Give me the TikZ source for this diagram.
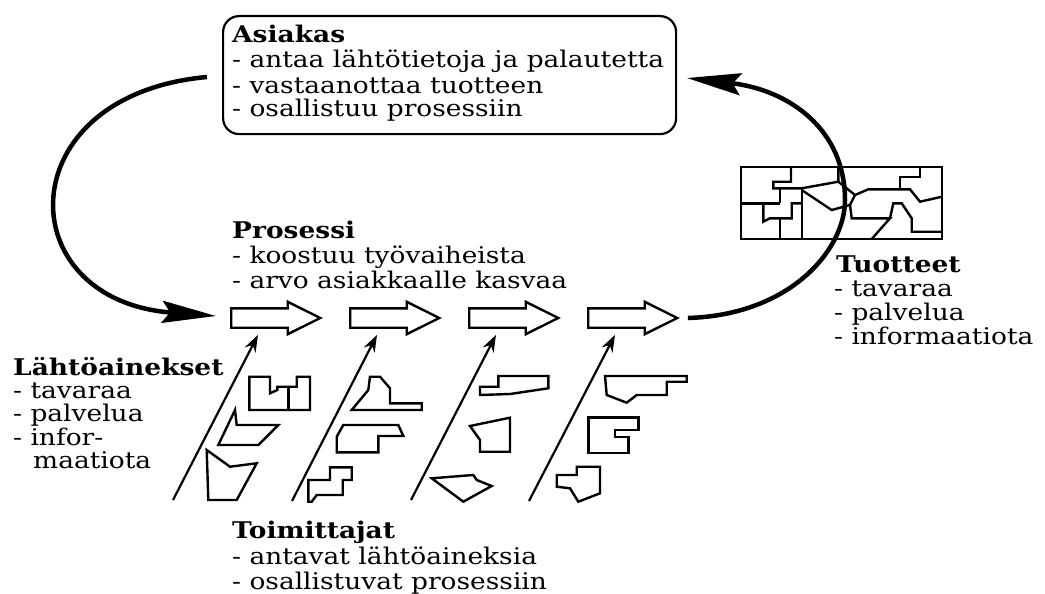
\documentclass[tikz,border=0pt]{standalone}
\usepackage{fontspec}
\setmainfont{DejaVu Serif}[FakeStretch=1.15]
\usetikzlibrary{arrows.meta,shapes.arrows,calc}
\begin{document}
\begin{tikzpicture}[x=1pt,y=-1pt,
  txt/.style={anchor=base west, inner sep=0pt, font=\fontsize{23}{24}\selectfont},
  hd/.style={txt, font=\fontsize{23}{24}\selectfont\bfseries},
  blk/.style={single arrow, draw, line width=2.4pt, minimum height=89pt,
    single arrow head extend=6.5pt, single arrow tip angle=53, inner xsep=0pt, inner ysep=8.5pt, anchor=center},
  feed/.style={line width=2.2pt, -{Stealth[length=17pt,width=12pt]}},
  cycarrow/.style={line width=4.5pt, -{Stealth[length=54pt,width=22pt,inset=8pt]}},
  pieceline/.style={line width=2.4pt, line join=miter},
  prodline/.style={line width=2.4pt},
]
\useasboundingbox (0,0) rectangle (1045,594);

% customer box
\node[draw, line width=2.2pt, rounded corners=16pt, minimum width=453pt, minimum height=118pt,
  inner sep=0pt, anchor=north west] (asiakas) at (222,15) {};
\node[hd] (as0) at (232,43) {Asiakas};
\node[txt] (as1) at (232,68) {- antaa lähtötietoja ja palautetta};
\node[txt] (as2) at (232,93) {- vastaanottaa tuotteen};
\node[txt] (as3) at (232,117) {- osallistuu prosessiin};

% process
\node[hd] (pr0) at (232,238) {Prosessi};
\node[txt] (pr1) at (232,263) {- koostuu työvaiheista};
\node[txt] (pr2) at (232,288) {- arvo asiakkaalle kasvaa};

\node[blk] (ba1) at (266,318) {};
\node[blk] (ba2) at (385,318) {};
\node[blk] (ba3) at (504,318) {};
\node[blk] (ba4) at (623,318) {};

% products
\node[hd] (tu0) at (836,272) {Tuotteet};
\node[txt] (tu1) at (834,296) {- tavaraa};
\node[txt] (tu2) at (834,320) {- palvelua};
\node[txt] (tu3) at (834,344) {- informaatiota};

% inputs
\node[hd] (la0) at (13,375) {Lähtöainekset};
\node[txt] (la1) at (13,398) {- tavaraa};
\node[txt] (la2) at (13,421) {- palvelua};
\node[txt] (la3) at (13,445) {- infor-};
\node[txt] (la4) at (33,468) {maatiota};

% suppliers
\node[hd] (to0) at (232,538) {Toimittajat};
\node[txt] (to1) at (232,564) {- antavat lähtöaineksia};
\node[txt] (to2) at (232,589) {- osallistuvat prosessiin};

% product box
\draw[prodline] (741,167) rectangle (942,239);
\draw[prodline] (791,167) -- (791,181.7) -- (773.3,181.7) -- (773.3,188.3) -- (801.7,188.3) -- (838.3,181.7) -- (838.3,167);
\draw[prodline] (838.3,181.7) -- (855,195) -- (868.3,189.3) -- (910,189.3) -- (920,201.7) -- (942,196.7);
\draw[prodline] (900,189.3) -- (900,176.7) -- (920,176.7) -- (920,167);
\draw[prodline] (801.7,188.3) -- (801.7,239);
\draw[prodline] (801.7,190) -- (831.7,210) -- (850,205) -- (855,195);
\draw[prodline] (850,205) -- (851.7,218.3) -- (890,218.3) -- (871.7,239);
\draw[prodline] (890,218.3) -- (893.3,203.3) -- (901.7,203.3) -- (911.7,218.3) -- (911.7,231.7) -- (942,231.7);
\draw[prodline] (741,203.3) -- (780,203.3);
\draw[prodline] (780,188.3) -- (780,203.3);
\draw[prodline] (763.3,203.3) -- (763.3,221.7) -- (770,218.3) -- (791.7,218.3) -- (791.7,203.3) -- (801.7,203.3);
\draw[prodline] (780,218.3) -- (780,239);

% cycle arrows
\coordinate (lstart) at (207,77);
\coordinate (rend) at (687,78);
\draw[cycarrow] (lstart) .. controls (8,95) and (8,300) .. ([xshift=-14pt,yshift=2pt]ba1.west);
\draw[cycarrow] ([xshift=8pt]ba4.tip) .. controls (790,315) and (845,250) .. (845,200)
  .. controls (845,130) and (790,90) .. (rend);

% supplier arrows
\coordinate (f1) at (173,500);
\coordinate (f2) at (292,501);
\coordinate (f3) at (411,500);
\coordinate (f4) at (529,501);
\draw[feed] (f1) -- ([xshift=-8pt,yshift=-6pt]ba1.south);
\draw[feed] (f2) -- ([xshift=-8pt,yshift=-6pt]ba2.south);
\draw[feed] (f3) -- ([xshift=-8pt,yshift=-6pt]ba3.south);
\draw[feed] (f4) -- ([xshift=-8pt,yshift=-6pt]ba4.south);

% pieces column 1
\draw[pieceline] (249.3,376.7) -- (270,376.7) -- (270,393.3) -- (277.3,390) -- (277.3,386.7) -- (296.7,386.7) -- (296.7,376.7) -- (310,376.7) -- (310,410) -- (249.3,410) -- cycle;
\draw[pieceline] (288.3,386.7) -- (288.3,410);
\draw[pieceline] (235,410) -- (236.7,425) -- (278.3,425) -- (258.3,445) -- (218.3,445) -- cycle;
\draw[pieceline] (206.7,450) -- (230,466.7) -- (256.7,463.3) -- (236.7,500) -- (208.3,500) -- cycle;
% column 2
\draw[pieceline] (370,376.7) -- (380,376.7) -- (390,388.3) -- (390,403.3) -- (421.7,403.3) -- (421.7,410) -- (351.7,410) -- (368.3,390) -- cycle;
\draw[pieceline] (343.3,425) -- (398.3,425) -- (403.3,436) -- (378.3,436) -- (378.3,452.3) -- (336.7,452.3) -- (336.7,436.7) -- cycle;
\draw[pieceline] (330,467.3) -- (351.7,467.3) -- (351.7,480) -- (342.7,480) -- (342.7,495) -- (316.7,495) -- (311.7,501.7) -- (308.3,501.7) -- (308.3,480) -- (330,480) -- cycle;
% column 3
\draw[pieceline] (498.3,376) -- (548.3,376) -- (548.3,388.3) -- (510,394) -- (480,395) -- (480,386.7) -- (498.3,386.7) -- cycle;
\draw[pieceline] (470,426) -- (510,417.7) -- (510,451.7) -- (480,451.7) -- (480,440) -- cycle;
\draw[pieceline] (431.7,478.3) -- (473.3,475) -- (476.7,480) -- (491.7,486) -- (463.3,501.7) -- cycle;
% column 4
\draw[pieceline] (605,376) -- (686.7,376) -- (686.7,381.7) -- (666.7,381.7) -- (666.7,395) -- (636.7,395) -- (626.7,402.7) -- (606.7,395) -- cycle;
\draw[pieceline] (588.3,417.3) -- (638.3,417.3) -- (638.3,430) -- (615,430) -- (615,436.7) -- (628.3,436.7) -- (628.3,452.7) -- (588.3,452.7) -- cycle;
\draw[pieceline] (576.7,466.7) -- (600,466.7) -- (600,493.3) -- (578.3,501.7) -- (570,488.3) -- (556.7,486.7) -- (556.7,475) -- (576.7,475) -- cycle;
\end{tikzpicture}
\end{document}
